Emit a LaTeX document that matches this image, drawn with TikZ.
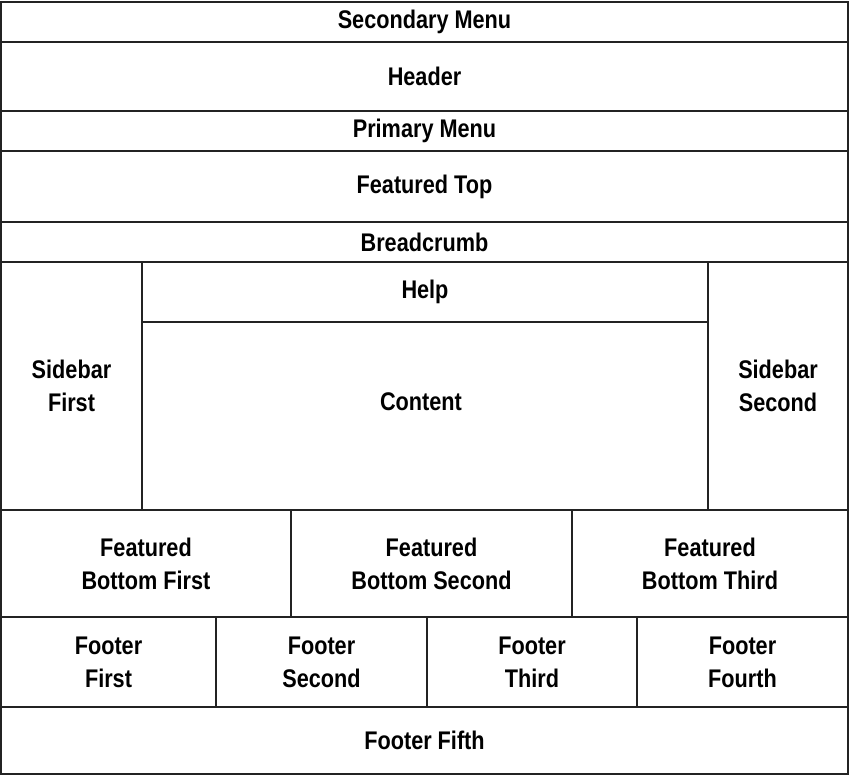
\documentclass[tikz,border=0pt]{standalone}
\usepackage{fontspec}
\setmainfont{Liberation Sans}[FakeStretch=0.85]
\definecolor{lineGray}{RGB}{35,35,35}
\usetikzlibrary{positioning}

\tikzset{
  cell/.style={draw=lineGray, line width=1.9pt, inner sep=0pt, align=center,
    font=\fontsize{25.5}{33}\selectfont\bfseries},
}

\begin{document}
\begin{tikzpicture}[x=1pt, y=-1pt]
  \useasboundingbox (0,0) rectangle (850,776);

  % Top bands
  \node[cell, minimum width=847pt, minimum height=40pt] (secmenu) at (424.5,22) {Secondary Menu};
  \node[cell, minimum width=847pt, minimum height=69pt] (header) at (424.5,76.5) {Header};
  \node[cell, minimum width=847pt, minimum height=40pt] (primenu) at (424.5,131) {Primary Menu};
  \node[cell, minimum width=847pt, minimum height=71pt] (feattop) at (424.5,186.5) {Featured Top};
  \node[cell, minimum width=847pt, minimum height=40pt] (crumb) at (424.5,242) {Breadcrumb};

  % Middle row
  \node[cell, minimum width=141pt, minimum height=248pt] (sidefirst) at (71.5,386) {Sidebar\\First};
  \node[cell, minimum width=140pt, minimum height=248pt] (sidesecond) at (778,386) {Sidebar\\Second};
  \node[cell, minimum width=566pt, minimum height=60pt] (help) at (425,292) {Help};
  \node[cell, minimum width=566pt, minimum height=188pt] (content) at (425,416) {};
  \node[font=\fontsize{25.5}{33}\selectfont\bfseries] (contentlabel) at (421,402) {Content};

  % Featured bottom
  \node[cell, minimum width=290pt, minimum height=107pt] (fbfirst) at (146,563.5) {Featured\\Bottom First};
  \node[cell, minimum width=281pt, minimum height=107pt] (fbsecond) at (431.5,563.5) {Featured\\Bottom Second};
  \node[cell, minimum width=276pt, minimum height=107pt] (fbthird) at (710,563.5) {Featured\\Bottom Third};

  % Footers
  \node[cell, minimum width=215pt, minimum height=90pt] (ftfirst) at (108.5,662) {Footer\\First};
  \node[cell, minimum width=211pt, minimum height=90pt] (ftsecond) at (321.5,662) {Footer\\Second};
  \node[cell, minimum width=210pt, minimum height=90pt] (ftthird) at (532,662) {Footer\\Third};
  \node[cell, minimum width=211pt, minimum height=90pt] (ftfourth) at (742.5,662) {Footer\\Fourth};
  \node[cell, minimum width=847pt, minimum height=67pt] (ftfifth) at (424.5,740.5) {Footer Fifth};
\end{tikzpicture}
\end{document}
